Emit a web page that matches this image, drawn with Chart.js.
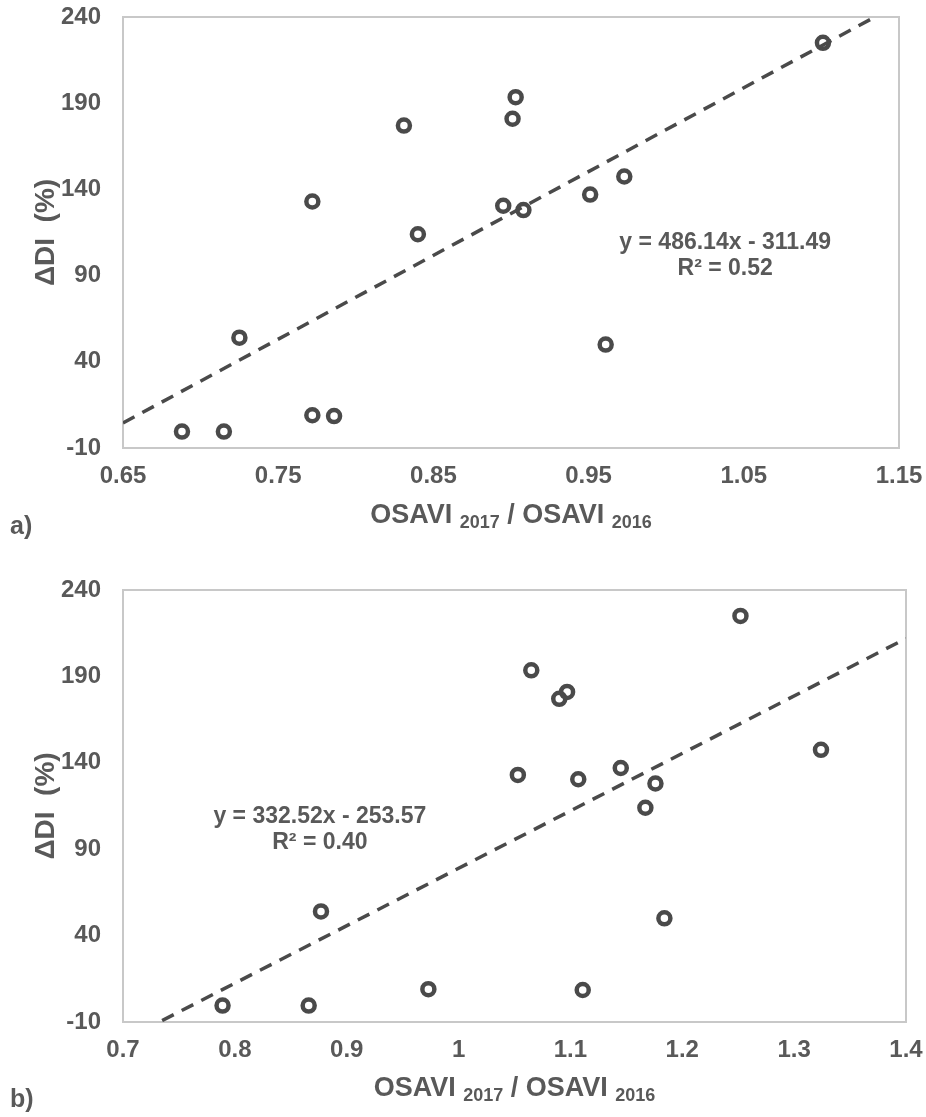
<!DOCTYPE html>
<html lang="en">
<head>
    <meta charset="UTF-8">
    <title>ΔDI vs OSAVI 2017 / OSAVI 2016</title>
    <script src="https://cdn.jsdelivr.net/npm/chart.js"></script>
    <style>
        body { margin: 0; background: #fff; }
        .panel { position: absolute; left: 0; }
    </style>
</head>
<body>
    <div class="panel" style="top: 0;"><canvas id="chartA" width="926" height="558"></canvas></div>
    <div class="panel" style="top: 558px;"><canvas id="chartB" width="926" height="559"></canvas></div>

    <script>
        // ΔDI (%) for each plot, shared by both panels
        var deltaDI = [-0.5, -0.5, 54, 133, 9, 8.5, 177, 114, 130.5, 181, 193.5, 128, 137, 50, 147.5, 225];
        // OSAVI 2017 / OSAVI 2016 ratio, panel a
        var osaviA = [0.688, 0.715, 0.725, 0.772, 0.772, 0.786, 0.831, 0.840, 0.895, 0.901, 0.903, 0.908, 0.951, 0.961, 0.973, 1.101];
        // same ratio computed the other way, panel b
        var osaviB = [0.789, 0.866, 0.877, 1.053, 0.973, 1.111, 1.090, 1.167, 1.107, 1.097, 1.065, 1.176, 1.145, 1.184, 1.324, 1.252];

        // linear fits (slope, intercept, R²)
        var fitA = [486.14, -311.49, 0.52];
        var fitB = [332.52, -253.57, 0.40];

        var yTicks = [-10, 40, 90, 140, 190, 240];
        var xTicksA = [0.65, 0.75, 0.85, 0.95, 1.05, 1.15];
        var xTickLabelsA = ['0.65', '0.75', '0.85', '0.95', '1.05', '1.15'];
        var xTicksB = [0.7, 0.8, 0.9, 1.0, 1.1, 1.2, 1.3, 1.4];
        var xTickLabelsB = ['0.7', '0.8', '0.9', '1', '1.1', '1.2', '1.3', '1.4'];

        var FONT = "'Liberation Sans', Arial, sans-serif";
        var TEXT = '#595959';
        var MARK = '#4a4a4a';

        // frame, axis titles, panel letter and fit equation
        var decorations = {
            id: 'decorations',
            beforeDatasetsDraw: function (chart) {
                var a = chart.chartArea, ctx = chart.ctx;
                ctx.save();
                ctx.strokeStyle = '#c8c8c8';
                ctx.lineWidth = 2;
                ctx.strokeRect(a.left, a.top, a.right - a.left, a.bottom - a.top);
                ctx.restore();
            },
            afterDraw: function (chart, args, o) {
                var a = chart.chartArea, ctx = chart.ctx;
                ctx.save();
                ctx.fillStyle = TEXT;
                ctx.textBaseline = 'middle';

                // x title with subscripted years
                var parts = [['OSAVI ', 27, 0], ['2017', 18, 7], [' / OSAVI ', 27, 0], ['2016', 18, 7]];
                var total = 0;
                parts.forEach(function (p) {
                    ctx.font = 'bold ' + p[1] + 'px ' + FONT;
                    total += ctx.measureText(p[0]).width;
                });
                var x = (a.left + a.right) / 2 - total / 2;
                ctx.textAlign = 'left';
                parts.forEach(function (p) {
                    ctx.font = 'bold ' + p[1] + 'px ' + FONT;
                    ctx.fillText(p[0], x, o.titleY + p[2]);
                    x += ctx.measureText(p[0]).width;
                });

                // y title
                ctx.save();
                ctx.translate(46, (a.top + a.bottom) / 2);
                ctx.rotate(-Math.PI / 2);
                ctx.textAlign = 'center';
                ctx.font = 'bold 28px ' + FONT;
                ctx.fillText('ΔDI  (%)', 0, 0);
                ctx.restore();

                // panel letter
                ctx.textAlign = 'left';
                ctx.font = 'bold 25px ' + FONT;
                ctx.fillText(o.letter, 10, o.letterY);

                // fit equation
                var fit = o.fit;
                var px = chart.scales.x.getPixelForValue(o.eqX);
                var py = chart.scales.y.getPixelForValue(o.eqY);
                ctx.textAlign = 'center';
                ctx.font = 'bold 23px ' + FONT;
                ctx.fillText('y = ' + fit[0].toFixed(2) + 'x - ' + Math.abs(fit[1]).toFixed(2), px, py);
                ctx.fillText('R² = ' + fit[2].toFixed(2), px, py + 26);
                ctx.restore();
            }
        };

        function makeChart(id, xs, ticks, labels, fit, pad, extra) {
            var xMin = ticks[0], xMax = ticks[ticks.length - 1];
            var points = xs.map(function (v, i) { return { x: v, y: deltaDI[i] }; });
            var line = [
                { x: xMin, y: fit[0] * xMin + fit[1] },
                { x: xMax, y: fit[0] * xMax + fit[1] }
            ];
            extra.fit = fit;

            return new Chart(document.getElementById(id).getContext('2d'), {
                type: 'scatter',
                data: {
                    datasets: [
                        {
                            type: 'line',
                            data: line,
                            borderColor: MARK,
                            borderWidth: 3.5,
                            borderDash: [13, 9],
                            pointRadius: 0,
                            fill: false,
                            clip: 0,
                            order: 0
                        },
                        {
                            data: points,
                            pointRadius: 6,
                            pointBorderWidth: 4.5,
                            pointBorderColor: MARK,
                            pointBackgroundColor: 'rgba(0,0,0,0)',
                            order: 1
                        }
                    ]
                },
                options: {
                    responsive: false,
                    animation: false,
                    layout: { padding: pad, autoPadding: false },
                    plugins: {
                        legend: { display: false },
                        tooltip: { enabled: false },
                        decorations: extra
                    },
                    scales: {
                        x: {
                            type: 'linear',
                            min: xMin,
                            max: xMax,
                            grid: { display: false, drawTicks: false },
                            border: { display: false },
                            afterFit: function (s) {
                                s.height = 40;
                                s.paddingLeft = 0;
                                s.paddingRight = 0;
                            },
                            afterBuildTicks: function (s) {
                                s.ticks = ticks.map(function (v) { return { value: v }; });
                            },
                            ticks: {
                                padding: 14,
                                autoSkip: false,
                                maxRotation: 0,
                                color: TEXT,
                                font: { family: FONT, size: 24, weight: 'bold' },
                                callback: function (v, i) { return labels[i]; }
                            }
                        },
                        y: {
                            type: 'linear',
                            min: yTicks[0],
                            max: yTicks[yTicks.length - 1],
                            grid: { display: false, drawTicks: false },
                            border: { display: false },
                            afterFit: function (s) {
                                s.width = 123;
                                s.paddingTop = 0;
                                s.paddingBottom = 0;
                            },
                            afterBuildTicks: function (s) {
                                s.ticks = yTicks.map(function (v) { return { value: v }; });
                            },
                            ticks: {
                                padding: 22,
                                color: TEXT,
                                font: { family: FONT, size: 24, weight: 'bold' },
                                callback: function (v) { return String(v); }
                            }
                        }
                    }
                },
                plugins: [decorations]
            });
        }

        makeChart('chartA', osaviA, xTicksA, xTickLabelsA, fitA,
            { left: 0, top: 17, right: 27, bottom: 70 },
            { letter: 'a)', letterY: 527, titleY: 516, eqX: 1.038, eqY: 108.9 });

        makeChart('chartB', osaviB, xTicksB, xTickLabelsB, fitB,
            { left: 0, top: 32, right: 20, bottom: 55 },
            { letter: 'b)', letterY: 542, titleY: 531, eqX: 0.876, eqY: 108.6 });
    </script>
</body>
</html>
